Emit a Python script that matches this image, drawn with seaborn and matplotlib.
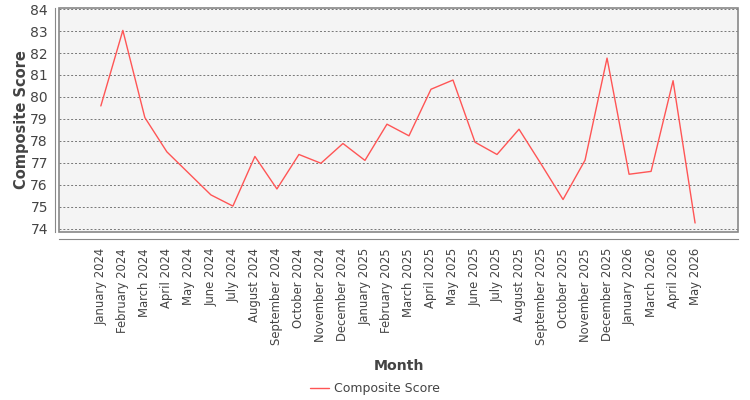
import matplotlib
matplotlib.use("Agg")
import matplotlib.pyplot as plt
import matplotlib.patches as mpatches
import seaborn as sns
import pandas as pd

# months shown on the x axis (February 2026 is missing in the source)
months = [
    "January 2024", "February 2024", "March 2024", "April 2024", "May 2024",
    "June 2024", "July 2024", "August 2024", "September 2024", "October 2024",
    "November 2024", "December 2024",
    "January 2025", "February 2025", "March 2025", "April 2025", "May 2025",
    "June 2025", "July 2025", "August 2025", "September 2025", "October 2025",
    "November 2025", "December 2025",
    "January 2026", "March 2026", "April 2026", "May 2026",
]

composite_score = [
    79.59, 83.03, 79.06, 77.50, 76.52, 75.54, 75.03, 77.29, 75.81, 77.38,
    76.98, 77.88,
    77.11, 78.76, 78.23, 80.35, 80.77, 77.94, 77.38, 78.53, 76.95, 75.33,
    77.12, 81.77,
    76.48, 76.61, 80.74, 74.26,
]

y_ticks = list(range(74, 85))

df = pd.DataFrame({"Month": months, "Composite Score": composite_score})

sns.set_style("white")
plt.rcParams["font.family"] = ["DejaVu Sans"]

text_col = "#444444"
frame_col = "#888888"

fig = plt.figure(figsize=(7.5, 4), dpi=100)
ax = fig.add_axes([0.0787, 0.42, 0.9053, 0.56])
ax.set_facecolor("#f4f4f4")

sns.lineplot(data=df, x="Month", y="Composite Score", sort=False,
             color="#ff5555", linewidth=1.0, label="Composite Score", ax=ax)

ax.set_xlim(-1.9, len(months) - 1 + 1.95)
ax.set_ylim(73.85, 84.05)
ax.set_yticks(y_ticks)

for v in y_ticks:
    ax.axhline(v, color="#777777", linewidth=0.7, linestyle=(0, (2, 2)), zorder=0.5)

# frame around the plot area
ax.add_patch(mpatches.Rectangle((0, 0), 1, 1, transform=ax.transAxes, fill=False,
                                edgecolor=frame_col, linewidth=1.2, clip_on=False, zorder=3))

# axis lines offset from the frame
for side in ["top", "right"]:
    ax.spines[side].set_visible(False)
ax.spines["left"].set_position(("outward", 3))
ax.spines["bottom"].set_position(("outward", 5))
for side in ["left", "bottom"]:
    ax.spines[side].set_color(frame_col)
    ax.spines[side].set_linewidth(0.8)

ax.tick_params(axis="both", direction="out", length=3, width=0.6, color=frame_col,
               labelcolor=text_col, labelsize=8.4)
ax.tick_params(axis="y", labelsize=10, pad=2)
plt.setp(ax.get_xticklabels(), rotation=90)

ax.set_ylabel("Composite Score", fontsize=10.5, fontweight="bold", color=text_col, labelpad=1)
ax.set_xlabel("Month", fontsize=10.2, fontweight="bold", color=text_col, labelpad=10)

ax.legend(loc="upper center", bbox_to_anchor=(0.465, -0.62), frameon=False,
          fontsize=9, handlelength=1.5, handletextpad=0.4, labelcolor=text_col)

fig.savefig("out.png", dpi=100)
